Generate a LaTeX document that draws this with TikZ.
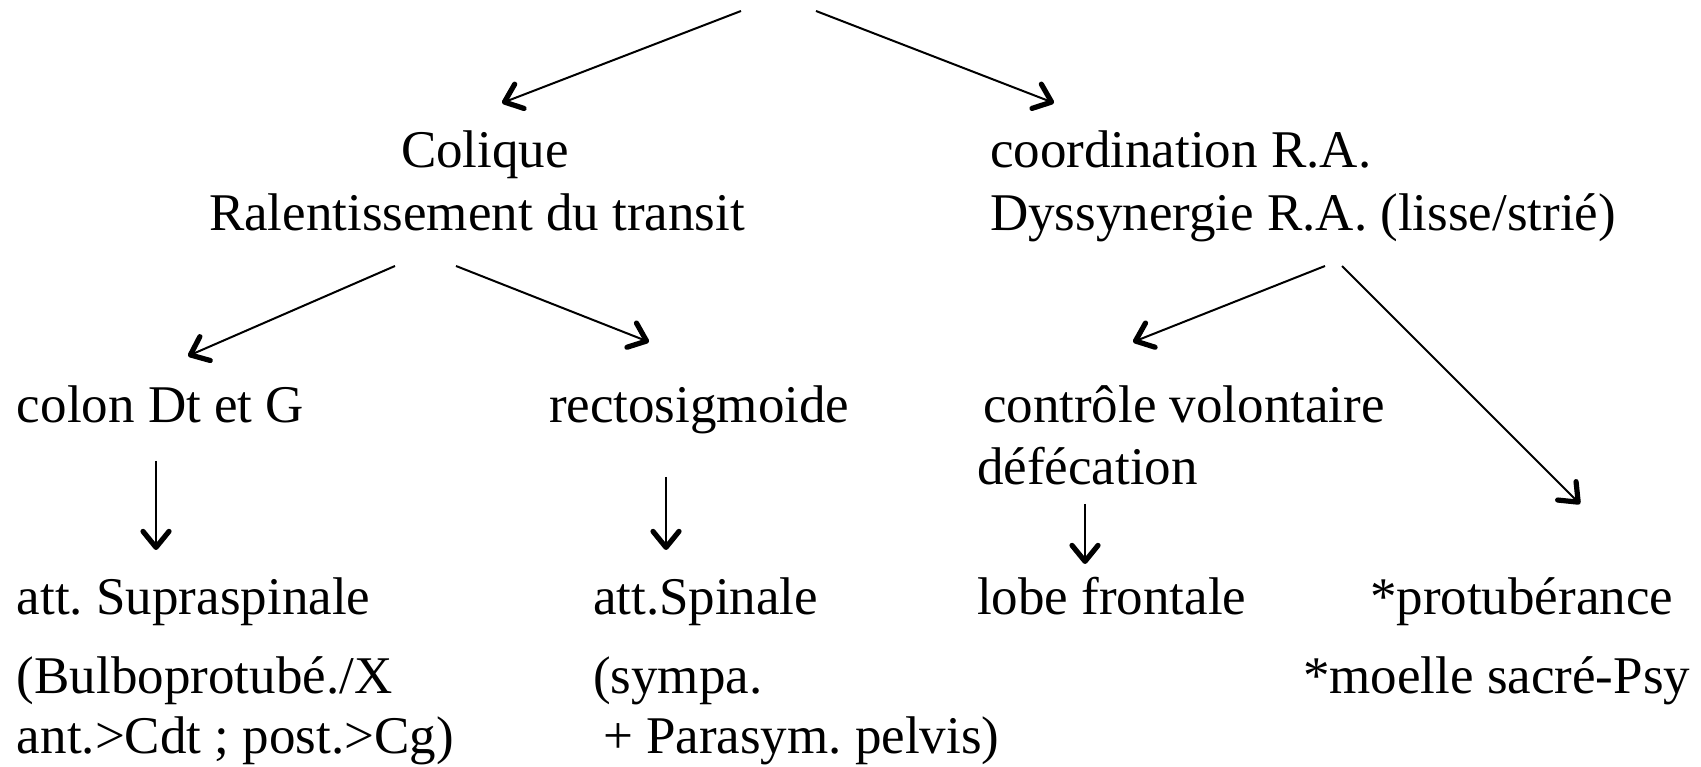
\documentclass[tikz,border=0pt]{standalone}
\usepackage{fontspec}
\setmainfont{Liberation Serif}
\usetikzlibrary{arrows.meta,calc}
\frenchspacing

\tikzset{every picture/.style={line width=0.5pt}}
\tikzset{lbl/.style={anchor=base west,inner sep=0pt,font=\fontsize{13.25}{16}\selectfont}}
\tikzset{fleche/.style={-{Straight Barb[length=4pt,width=6.5pt,line width=1.3pt,round]}}}

\begin{document}
\begin{tikzpicture}[x=0.25pt,y=0.25pt,yscale=-1,xscale=1]
\useasboundingbox (0,0) rectangle (1701,767);

% haut
\coordinate (rootL) at (741,11);
\coordinate (rootR) at (816,11);

\draw (400,168) node (colique) [lbl] {Colique};
\draw (208,231) node (ralent) [lbl] {Ralentissement du transit};
\draw (989,168) node (coord) [lbl] {coordination R.A.};
\draw (989,231) node (dyss) [lbl] {Dyssynergie R.A. (lisse/strié)};

% niveau 2
\draw (16,423) node (colon) [lbl] {colon Dt et G};
\draw (548,423) node (recto) [lbl] {rectosigmoide};
\draw (982,423) node (controle) [lbl] {contrôle volontaire};
\draw (976,485) node (defec) [lbl] {défécation};

% niveau 3
\draw (16,615) node (supra) [lbl] {att. Supraspinale};
\draw (16,694) node (bulbo) [lbl] {(Bulboprotubé./X};
\draw (16,754) node (antcdt) [lbl] {ant.>Cdt ; post.>Cg)};
\draw (592,615) node (spinale) [lbl] {att.Spinale};
\draw (592,694) node (sympa) [lbl] {(sympa.};
\draw (602,754) node (parasym) [lbl] {+ Parasym. pelvis)};
\draw (976,615) node (lobe) [lbl] {lobe frontale};
\draw (1369,615) node (protub) [lbl] {*protubérance};
\draw (1302,694) node (moelle) [lbl] {*moelle sacré-Psy};

% fleches
\draw [fleche] (rootL) -- ($(colique.base west)+(102,-65)$);
\draw [fleche] (rootR) -- ($(coord.base west)+(65,-65)$);
\draw [fleche] ($(ralent.base west)+(187,35)$) -- ($(colon.base west)+(172,-67)$);
\draw [fleche] ($(ralent.base west)+(248,35)$) -- ($(recto.base west)+(101,-81)$);
\draw [fleche] ($(dyss.base west)+(336,35)$) -- ($(controle.base west)+(151,-81)$);
\draw [fleche] ($(dyss.base west)+(353,35)$) -- ($(protub.base west)+(211,-111)$);
\draw [fleche] ($(colon.base west)+(140,38)$) -- ($(supra.base west)+(140,-65)$);
\draw [fleche] ($(recto.base west)+(118,54)$) -- ($(spinale.base west)+(74,-65)$);
\draw [fleche] ($(defec.base west)+(109,19)$) -- ($(lobe.base west)+(109,-51)$);

\end{tikzpicture}
\end{document}
